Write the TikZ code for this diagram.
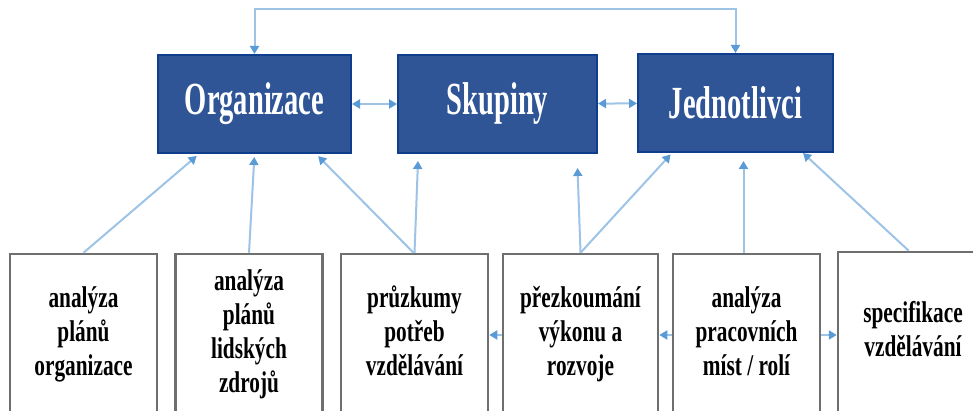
\documentclass[tikz,border=0pt]{standalone}
\usepackage{fontspec}
\setmainfont{Liberation Serif}
\usepackage{graphicx}
\usetikzlibrary{arrows.meta,calc}
\definecolor{BoxBlue}{HTML}{2F5597}
\definecolor{EdgeBlue}{HTML}{0F3F8C}
\definecolor{LinkBlue}{HTML}{9DC3E6}
\definecolor{TipBlue}{HTML}{5B9BD5}
\definecolor{FrameGray}{HTML}{6F6F6F}
\newcommand{\toplabel}[1]{\scalebox{0.62}[1]{#1}}
\newcommand{\tasklabel}[1]{\scalebox{0.71}[1]{\begin{tabular}{@{}c@{}}#1\end{tabular}}}
\tikzset{
  topbox/.style={fill=BoxBlue, draw=EdgeBlue, line width=2pt, text=white,
    minimum height=98pt, inner sep=0pt, font=\fontsize{46}{50}\selectfont\bfseries},
  taskbox/.style={fill=white, draw=FrameGray, line width=2.5pt, minimum width=147pt,
    minimum height=162pt, inner sep=0pt, font=\fontsize{30}{34}\selectfont\bfseries},
  link/.style={draw=LinkBlue, line width=2pt,
    >={Triangle[length=8pt,width=9pt,color=TipBlue]}, ->},
}
\begin{document}
\begin{tikzpicture}[x=1pt,y=1pt]
  \useasboundingbox (0,0) rectangle (973,411);

  % levels
  \node[topbox, minimum width=193pt] (org) at (254.5,307) {\toplabel{Organizace}};
  \node[topbox, minimum width=199pt] (sku) at (497.5,307) {\toplabel{Skupiny}};
  \node[topbox, minimum width=195pt] (jed) at (735.5,308) {\toplabel{Jednotlivci}};

  % sources
  \node[taskbox] (plan) at (83.5,76) {\tasklabel{analýza\\plánů\\organizace}};
  \node[taskbox] (hr) at (249,76) {\tasklabel{analýza\\plánů\\lidských\\zdrojů}};
  \node[taskbox] (survey) at (414.5,76) {\tasklabel{průzkumy\\potřeb\\vzdělávání}};
  \node[taskbox, minimum width=155pt] (review) at (580.5,76) {\tasklabel{přezkoumání\\výkonu a\\rozvoje}};
  \node[taskbox] (jobs) at (746.5,76) {\tasklabel{analýza\\pracovních\\míst / rolí}};
  \node[taskbox, minimum width=150pt] (spec) at (913,78) {\tasklabel{specifikace\\vzdělávání}};

  % links between levels
  \draw[link,<->] (org.north) -- ++(0,45) -| (jed.north);
  \draw[link,<->] (org) -- (sku);
  \draw[link,<->] (sku) -- (jed);

  % links up from sources
  \draw[link, shorten >=3pt] (plan.north) -- ($(org.south west)+(42,0)$);
  \draw[link, shorten >=3pt] (hr.north) -- (org.south);
  \draw[link, shorten >=3pt] ($(survey.north)+(-1,0)$) -- ($(org.south east)+(-36,0)$);
  \draw[link] (survey.north) -- ($(sku.south west)+(21,-7)$);
  \draw[link] (review.north) -- ($(sku.south)+(80,-14)$);
  \draw[link, shorten >=2pt] (review.north) -- ($(jed.south west)+(35,0)$);
  \draw[link] ($(jobs.north)+(-3,0)$) -- ($(jed.south)+(8,-8)$);
  \draw[link] ($(spec.north west)+(72,0)$) -- ($(jed.south east)+(-31,0)$);

  % links between sources
  \draw[link] (review) -- (survey);
  \draw[link] (jobs) -- (review);
  \draw[link] (jobs.east) -- (jobs.east -| spec.west);
\end{tikzpicture}
\end{document}
